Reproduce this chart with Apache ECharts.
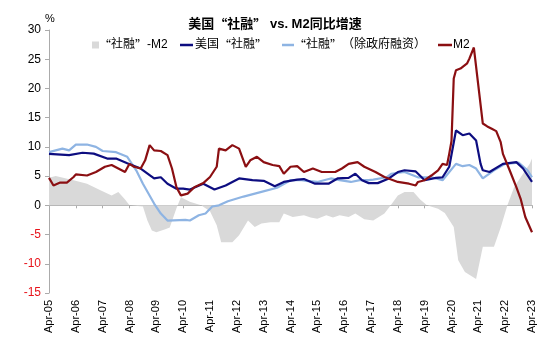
<!DOCTYPE html>
<html>
<head>
<meta charset="utf-8">
<script src="https://cdn.jsdelivr.net/npm/echarts@6/dist/echarts.min.js"></script>
<style>
  html, body { margin: 0; padding: 0; background: #fff; }
  #chart { width: 550px; height: 349px; }
</style>
</head>
<body>
<div id="chart"></div>
<script>
// Year-over-year growth, %: US "social financing" (total credit), ex-government, and M2

const tickLabels = ['Apr-05','Apr-06','Apr-07','Apr-08','Apr-09','Apr-10','Apr-11','Apr-12','Apr-13',
  'Apr-14','Apr-15','Apr-16','Apr-17','Apr-18','Apr-19','Apr-20','Apr-21','Apr-22','Apr-23'];

// "社融" - M2 spread
const spreadDates = ['2005-04','2005-07','2006-03','2006-09','2007-03','2007-08','2007-11','2008-02','2008-04',
  '2008-10','2008-12','2009-02','2009-04','2009-08','2009-10','2010-01','2010-03','2010-07','2010-12',
  '2011-04','2011-07','2011-09','2012-02','2012-05','2012-09','2012-12','2013-03','2013-07','2013-11',
  '2014-01','2014-05','2014-10','2015-01','2015-04','2015-08','2015-11','2016-02','2016-06','2016-09',
  '2017-01','2017-05','2017-10','2018-01','2018-04','2018-07','2018-11','2019-02','2019-05','2019-10',
  '2020-01','2020-05','2020-07','2020-10','2021-03','2021-06','2021-11','2022-02','2022-05','2022-08',
  '2022-12','2023-03','2023-04'];
const spreadVals = [4.7,5.0,4.3,3.7,2.6,1.7,2.3,1.0,0,
  -0.2,-2.6,-4.3,-4.6,-4.1,-3.8,-0.5,1.4,0.6,0,
  -1.0,-3.4,-6.3,-6.3,-5.1,-2.6,-3.7,-3.1,-2.9,-2.9,
  -1.4,-2.0,-1.7,-2.1,-2.3,-1.7,-2.1,-1.7,-2.0,-1.4,
  -2.4,-2.6,-1.4,0.1,1.7,2.3,2.3,1.0,0,-0.6,
  -1.3,-3.7,-9.4,-11.4,-12.6,-7.1,-7.1,-3.8,0,3.1,
  5.4,7.1,8.0];

// US "社融"
const totalDates = ['2005-04','2006-01','2006-07','2006-12','2007-06','2007-10','2008-03','2008-09','2009-03',
  '2009-06','2009-09','2010-01','2010-04','2010-07','2011-01','2011-06','2011-11','2012-05','2012-11',
  '2013-04','2013-09','2014-01','2014-07','2014-10','2015-03','2015-09','2016-01','2016-06','2016-09',
  '2016-12','2017-03','2017-07','2017-12','2018-04','2018-07','2018-12','2019-04','2019-09','2019-12',
  '2020-03','2020-06','2020-09','2020-12','2021-03','2021-05','2021-06','2021-09','2022-03','2022-09',
  '2022-12','2023-04'];
const totalVals = [8.8,8.6,9.0,8.85,8.0,8.0,7.2,6.3,4.6,
  4.8,3.7,2.85,2.85,2.7,3.7,2.7,3.4,4.6,4.3,
  4.2,3.25,4.0,4.4,4.5,3.7,3.7,4.6,4.7,5.4,
  4.3,3.8,3.8,4.6,5.7,6.0,5.8,4.3,4.7,4.8,
  6.6,12.8,12.0,12.3,11.1,7.1,6.0,5.7,7.1,7.4,
  6.3,4.0];

// "社融" excluding government financing
const exGovDates = ['2005-04','2005-10','2006-01','2006-04','2006-09','2007-01','2007-04','2007-10','2008-03',
  '2008-07','2008-10','2009-03','2009-06','2009-09','2010-05','2010-07','2010-11','2011-02','2011-05',
  '2011-08','2011-12','2012-07','2013-03','2013-10','2014-04','2014-09','2014-11','2015-04','2015-10',
  '2016-02','2016-07','2016-11','2017-03','2017-05','2017-11','2018-01','2018-07','2019-01','2019-07',
  '2019-12','2020-06','2020-09','2020-12','2021-03','2021-06','2021-11','2022-04','2022-10','2023-02',
  '2023-04'];
const exGovVals = [9.1,9.7,9.4,10.4,10.4,10.0,9.3,9.1,8.3,
  6.0,3.7,0.3,-1.4,-2.6,-2.5,-2.6,-1.7,-1.4,-0.2,
  0,0.7,1.5,2.3,3.0,4.3,4.3,4.2,4.0,4.6,
  4.3,4.0,4.3,4.3,4.4,4.8,5.4,5.7,4.8,4.8,
  4.3,7.1,6.7,6.9,6.3,4.6,6.0,7.1,7.3,6.0,
  4.8];

// M2
const m2Dates = ['2005-04','2005-06','2005-09','2005-12','2006-03','2006-04','2006-09','2007-01','2007-05',
  '2007-08','2007-11','2008-02','2008-04','2008-06','2008-09','2008-11','2009-01','2009-03','2009-06',
  '2009-09','2009-11','2010-01','2010-03','2010-06','2010-09','2011-01','2011-04','2011-07','2011-08',
  '2011-11','2012-02','2012-05','2012-08','2012-10','2013-01','2013-04','2013-08','2013-11','2014-01',
  '2014-04','2014-07','2014-10','2015-02','2015-06','2015-12','2016-03','2016-06','2016-10','2017-01',
  '2017-06','2017-10','2018-04','2018-09','2018-12','2019-01','2019-04','2019-07','2019-10','2019-12',
  '2020-02','2020-03','2020-04','2020-05','2020-06','2020-08','2020-09','2020-11','2020-12','2021-02',
  '2021-04','2021-06','2021-08','2021-10','2021-12','2022-02','2022-03','2022-06','2022-09','2022-11',
  '2023-01','2023-04'];
const m2Vals = [4.7,3.4,3.9,3.9,4.85,5.3,5.1,5.7,6.6,
  6.9,6.3,5.7,7.1,6.6,6.3,7.7,10.3,9.4,9.3,
  8.6,6.3,3.1,1.7,2.0,3.1,3.8,4.85,6.6,9.7,
  9.4,10.3,9.7,6.6,7.7,8.3,7.4,6.9,6.7,5.4,
  6.6,6.7,5.7,6.3,5.7,5.7,6.3,7.1,7.4,6.6,
  5.7,4.85,4.0,3.7,3.4,4.0,4.3,5.1,6.0,7.1,
  6.9,8.85,11.0,21.7,23.1,23.4,23.7,24.3,25.1,27.0,
  20.5,14.0,13.5,13.1,12.7,10.8,8.8,6.0,3.1,1.0,
  -2.0,-4.6];

// months elapsed since Apr-05
function monthIndex(d) {
  const [y, m] = d.split('-').map(Number);
  return (y - 2005) * 12 + (m - 4);
}
function pairs(dates, vals) {
  return dates.map((d, i) => [monthIndex(d), vals[i]]);
}

const FONT = '"Liberation Sans", "Noto Sans CJK SC", Arial, sans-serif';
const CJK = '"Noto Sans CJK SC", sans-serif';
const C_SPREAD = '#D9D9D9';
const C_TOTAL = '#0D0D80';
const C_EXGOV = '#8EB4E3';
const C_M2 = '#8B0F12';
const C_AXIS = '#ABABAB';

const names = ['“社融”-M2', '美国“社融”', '“社融”（除政府融资）', 'M2'];

// curly quotes are set in the CJK face so they take full width
function cjkQuotes(s) {
  return s.replace(/“/g, '{q|“}').replace(/”/g, '{q|”}');
}

const chart = echarts.init(document.getElementById('chart'), null, { renderer: 'canvas' });

function legendText(padLeft) {
  return {
    fontFamily: FONT, fontSize: 12, color: '#000', padding: [0, 0, 0, padLeft],
    rich: { q: { fontFamily: CJK, fontSize: 12, color: '#000' } }
  };
}
function legendAt(left, idx, w, h, padLeft) {
  return {
    top: 34, left: left, itemGap: 0, selectedMode: false,
    data: [{ name: names[idx], icon: 'rect' }],
    itemWidth: w, itemHeight: h,
    formatter: cjkQuotes,
    textStyle: legendText(padLeft)
  };
}

chart.setOption({
  animation: false,
  backgroundColor: '#fff',
  title: {
    text: cjkQuotes('美国“社融” vs. M2同比增速'),
    left: 270, top: 13, textAlign: 'center',
    textStyle: {
      fontFamily: FONT, fontSize: 13, fontWeight: 'bold', color: '#000',
      rich: { q: { fontFamily: CJK, fontSize: 13, fontWeight: 'bold', color: '#000' } }
    }
  },
  legend: [
    legendAt(87, 0, 7, 7, -5),
    legendAt(175, 1, 13, 2.5, -3),
    legendAt(277, 2, 12, 2.5, -5),
    legendAt(433, 3, 14, 2.5, -4)
  ],
  grid: { left: 49, right: 18, top: 30, bottom: 56, containLabel: false },
  xAxis: [
    {
      type: 'value', min: 0, max: 216, interval: 12, position: 'bottom',
      axisLine: { show: false, onZero: false },
      axisTick: { show: false },
      splitLine: { show: false },
      axisLabel: {
        rotate: 90, margin: 7, fontFamily: FONT, fontSize: 11, color: '#000',
        formatter: v => tickLabels[Math.round(v / 12)] || ''
      }
    },
    {
      type: 'value', min: 0, max: 216, interval: 12, position: 'bottom',
      axisLine: { show: true, onZero: true, lineStyle: { color: C_AXIS, width: 1 } },
      axisTick: { show: true, length: 3, lineStyle: { color: C_AXIS } },
      splitLine: { show: false },
      axisLabel: { show: false }
    }
  ],
  yAxis: {
    type: 'value', min: -15, max: 30, interval: 5,
    name: '%', nameLocation: 'end', nameGap: 4,
    nameTextStyle: { fontFamily: FONT, fontSize: 11, color: '#000', align: 'left', padding: [0, 0, 0, -4] },
    axisLine: { show: true, lineStyle: { color: C_AXIS, width: 1 } },
    axisTick: { show: true, length: 4, lineStyle: { color: C_AXIS } },
    splitLine: { show: false },
    axisLabel: {
      margin: 8, fontFamily: FONT, fontSize: 12,
      color: v => (v < 0 ? '#E8141B' : '#000')
    }
  },
  series: [
    {
      name: names[0], type: 'line', xAxisIndex: 1,
      data: pairs(spreadDates, spreadVals),
      symbol: 'none', lineStyle: { width: 0 }, itemStyle: { color: C_SPREAD },
      areaStyle: { color: C_SPREAD, opacity: 1, origin: 0 }
    },
    {
      name: names[2], type: 'line', xAxisIndex: 1,
      data: pairs(exGovDates, exGovVals),
      symbol: 'none', lineStyle: { width: 2.2, color: C_EXGOV }, itemStyle: { color: C_EXGOV }
    },
    {
      name: names[1], type: 'line', xAxisIndex: 1,
      data: pairs(totalDates, totalVals),
      symbol: 'none', lineStyle: { width: 2.2, color: C_TOTAL }, itemStyle: { color: C_TOTAL }
    },
    {
      name: names[3], type: 'line', xAxisIndex: 1,
      data: pairs(m2Dates, m2Vals),
      symbol: 'none', lineStyle: { width: 2.2, color: C_M2 }, itemStyle: { color: C_M2 }
    }
  ]
});
</script>
</body>
</html>
